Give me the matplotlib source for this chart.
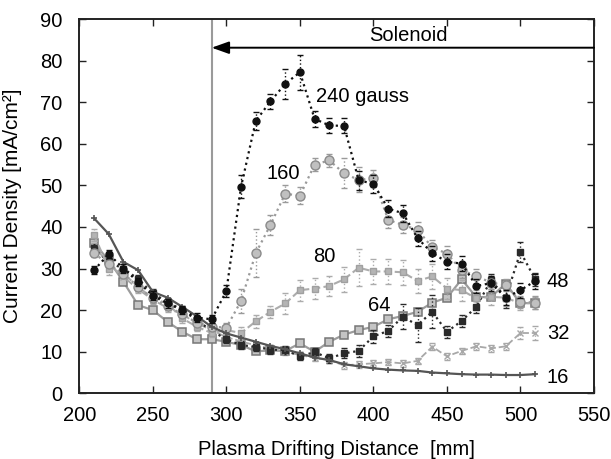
import matplotlib
matplotlib.use("Agg")
import matplotlib.pyplot as plt

plt.rcParams['font.family'] = ['Liberation Sans', 'DejaVu Sans']

# drifting distance [mm]
dist = [210, 220, 230, 240, 250, 260, 270, 280, 290, 300,
        310, 320, 330, 340, 350, 360, 370, 380, 390, 400,
        410, 420, 430, 440, 450, 460, 470, 480, 490, 500, 510]

# current density [mA/cm^2] per solenoid field
j240 = [29.6, 33.5, 30.0, 26.8, 23.5, 21.6, 20.0, 18.2, 17.8, 24.6,
        49.7, 65.5, 70.2, 74.4, 77.2, 66.0, 64.4, 64.3, 51.2, 50.4,
        44.4, 43.3, 37.3, 33.7, 31.6, 31.2, 25.8, 26.5, 23.0, 24.8, 27.0]
e240 = [1.0, 1.0, 1.0, 1.0, 1.0, 1.0, 1.0, 1.0, 1.0, 1.5,
        2.8, 2.2, 1.8, 3.6, 4.2, 1.9, 1.8, 1.8, 2.2, 2.2,
        2.0, 2.0, 1.8, 1.8, 1.8, 1.8, 1.8, 1.8, 1.8, 1.8, 1.8]

j160 = [33.7, 31.0, 28.8, 25.6, 22.8, 21.0, 19.0, 17.0, 16.0, 15.8,
        22.2, 33.7, 40.5, 48.0, 47.5, 55.0, 56.0, 52.9, 51.3, 51.7,
        41.7, 40.5, 39.3, 35.1, 33.6, 29.6, 28.2, 26.6, 26.0, 22.0, 21.8]
e160 = [1.0, 1.0, 1.0, 1.0, 1.0, 1.0, 1.0, 1.0, 1.0, 1.0,
        3.0, 5.8, 2.4, 2.0, 2.0, 1.5, 1.5, 3.6, 3.0, 2.0,
        2.0, 2.0, 1.8, 1.8, 1.8, 1.8, 1.8, 1.5, 1.5, 1.5, 1.5]

j80 = [38.1, 30.0, 28.8, 25.6, 22.8, 21.6, 18.0, 16.0, 14.5, 15.2,
       14.5, 17.3, 19.6, 21.6, 24.8, 25.2, 25.8, 27.4, 30.2, 29.3,
       29.3, 29.1, 27.0, 28.1, 25.2, 24.8, 22.8, 23.2, 23.0, 21.6, 21.7]
e80 = [1.5, 1.5, 1.0, 1.0, 1.0, 1.0, 1.0, 1.0, 1.0, 1.0,
       1.5, 1.5, 1.5, 2.5, 2.5, 2.5, 2.5, 3.0, 4.4, 3.0,
       3.0, 3.0, 3.0, 3.0, 2.5, 2.5, 2.0, 2.0, 2.0, 1.5, 1.5]

j64 = [36.1, 32.0, 26.8, 21.2, 20.0, 17.2, 14.8, 13.0, 13.0, 12.4,
       11.6, 10.1, 10.3, 10.2, 12.0, 10.0, 12.4, 14.1, 15.2, 16.0,
       17.8, 18.6, 19.6, 21.8, 23.0, 27.4, 23.1, 23.2, 26.4, 21.6, 21.8]

j48 = [35.0, 31.5, 30.0, 27.5, 24.0, 22.0, 20.0, 17.6, 15.0, 13.0,
       11.6, 11.2, 10.5, 10.4, 8.9, 9.9, 8.4, 9.6, 10.2, 13.7,
       15.0, 18.4, 16.4, 19.6, 14.8, 17.4, 20.8, 27.2, 23.0, 34.0, 27.4]
e48 = [1.0, 1.0, 1.0, 1.0, 1.0, 1.0, 1.0, 1.0, 1.0, 1.0,
       1.0, 1.0, 1.0, 1.0, 1.0, 1.0, 1.0, 1.2, 1.5, 1.5,
       1.5, 3.0, 4.0, 4.0, 1.5, 1.5, 1.5, 1.5, 2.5, 2.5, 1.5]

j32 = [35.5, 31.0, 28.0, 25.0, 22.5, 20.5, 19.0, 16.8, 15.2, 13.5,
       12.5, 11.5, 10.8, 10.0, 9.2, 8.5, 8.0, 6.7, 7.0, 7.2,
       7.5, 7.2, 7.8, 11.2, 8.9, 10.2, 11.3, 10.8, 11.3, 14.5, 14.5]
e32 = [1.0, 1.0, 1.0, 1.0, 1.0, 1.0, 1.0, 1.0, 1.0, 1.0,
       0.8, 0.8, 0.8, 0.8, 0.8, 0.8, 0.8, 0.8, 0.8, 0.8,
       0.8, 0.8, 0.8, 0.8, 0.8, 0.8, 0.8, 0.8, 0.8, 1.5, 1.8]

j16 = [42.1, 38.3, 31.6, 29.6, 24.4, 23.0, 20.8, 18.5, 16.0, 14.4,
       13.4, 12.4, 11.4, 10.6, 9.6, 8.6, 8.0, 7.0, 6.5, 6.0,
       5.7, 5.5, 5.4, 5.0, 4.8, 4.6, 4.5, 4.5, 4.4, 4.4, 4.6]

# curve labels: (text, x, y)
labels = [("240 gauss", 361, 71.4), ("160", 327, 52.9), ("80", 359, 32.8),
          ("64", 396, 21.2), ("48", 518, 26.8), ("32", 518, 14.4),
          ("16", 518, 3.9)]

solenoid_start = 290
arrow_y = 83.1


def eb(ax, y, err, color, ls, marker, ms, mfc, mec, lw=1.3, z=3):
    c = ax.errorbar(dist, y, yerr=err, color=color, ls=ls, lw=lw,
                    marker=marker, ms=ms, mfc=mfc, mec=mec, mew=1.0,
                    ecolor=color, elinewidth=1.0, capsize=2.5, capthick=1.0,
                    zorder=z)
    c[2][0].set_linestyle(':')
    return c


fig = plt.figure(figsize=(6.11, 4.59), dpi=100)
ax = fig.add_axes([0.1298, 0.1431, 0.8424, 0.8155])

ax.axvline(solenoid_start, color="#9a9a9a", lw=1.5, zorder=1)

ax.plot(dist, j16, color="#555555", ls="-", lw=1.6, marker="+", ms=5,
        mew=1.2, zorder=4)
eb(ax, j32, e32, "#a8a8a8", "--", "x", 5, "#a8a8a8", "#a8a8a8")
ax.plot(dist, j64, color="#9c9c9c", ls="-", lw=1.6, marker="s", ms=6,
        mfc="#c4c4c4", mec="#777777", mew=1.1, zorder=3)
eb(ax, j48, e48, "#2a2a2a", ":", "s", 4.5, "#2a2a2a", "#2a2a2a", lw=1.6)
eb(ax, j80, e80, "#acacac", "--", "s", 4, "#b4b4b4", "#a0a0a0", lw=1.5)
eb(ax, j160, e160, "#9a9a9a", ":", "o", 6.5, "#c0c0c0", "#8a8a8a", lw=1.6)
eb(ax, j240, e240, "#111111", ":", "o", 5, "#111111", "#111111", lw=1.6, z=5)

for txt, lx, ly in labels:
    ax.text(lx, ly, txt, fontsize=14.5, ha="left", va="center", zorder=6)

ax.annotate("", xy=(solenoid_start, arrow_y), xytext=(550, arrow_y),
            arrowprops=dict(arrowstyle="-|>,head_length=0.7,head_width=0.25",
                            color="black", lw=1.4, shrinkA=0, shrinkB=0,
                            mutation_scale=15))
ax.text(424, 86.1, "Solenoid", fontsize=14.5, ha="center", va="center")

ax.set_xlim(200, 550)
ax.set_ylim(0, 90)
ax.set_xticks(range(200, 551, 50))
ax.set_yticks(range(0, 91, 10))
ax.tick_params(direction="in", top=True, right=True, length=5, width=1.0,
               labelsize=14.5, color="#222222")
ax.tick_params(axis="x", pad=9)
ax.tick_params(axis="y", pad=12)
for s in ax.spines.values():
    s.set_linewidth(1.4)
    s.set_color("#222222")

ax.set_xlabel("Plasma Drifting Distance  [mm]", fontsize=14.5)
ax.set_ylabel("Current Density [mA/cm²]", fontsize=15)
ax.xaxis.set_label_coords(0.5, -0.126)
ax.yaxis.set_label_coords(-0.111, 0.5)

fig.savefig("out.png", dpi=100)
